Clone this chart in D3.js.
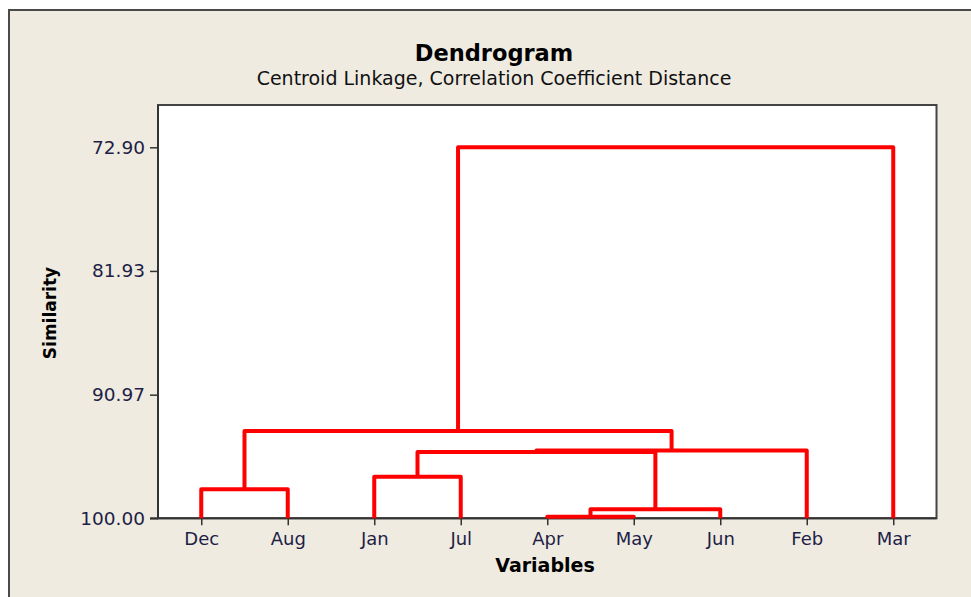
<!DOCTYPE html>
<html>
<head>
<meta charset="utf-8">
<script src="https://cdn.jsdelivr.net/npm/d3@7"></script>
<style>
  html, body { margin: 0; padding: 0; background: #ffffff; }
  svg { display: block; }
</style>
</head>
<body>
<svg id="chart" width="971" height="597"></svg>
<script>
// ---- data ----
const leaves = ["Dec", "Aug", "Jan", "Jul", "Apr", "May", "Jun", "Feb", "Mar"];
const yTicks = [72.90, 81.93, 90.97, 100.00];
// merges: [cluster id, left child, right child, similarity]
const mergeIds   = ["AM", "AMJ", "DA", "JJ", "JJAMJ", "C", "D", "ALL"];
const mergeLeft  = ["Apr", "AM", "Dec", "Jan", "JJ", "JJAMJ", "DA", "D"];
const mergeRight = ["May", "Jun", "Aug", "Jul", "AMJ", "Feb", "C", "Mar"];
const mergeSim   = [99.88, 99.34, 97.88, 96.96, 95.16, 95.05, 93.62, 72.90];

const title = "Dendrogram";
const subtitle = "Centroid Linkage, Correlation Coefficient Distance";
const xTitle = "Variables";
const yTitle = "Similarity";

// ---- layout ----
const svg = d3.select("#chart");
const W = 971, H = 597;
const plot = { left: 158, right: 936.5, top: 105, bottom: 518.3 };

// outer background & border
svg.append("rect").attr("x", 0).attr("y", 0).attr("width", W).attr("height", H).attr("fill", "#ffffff");
svg.append("rect").attr("x", 9).attr("y", 10).attr("width", W + 20).attr("height", H + 20)
  .attr("fill", "#efebe1").attr("stroke", "#4a4a4a").attr("stroke-width", 2);

// plot area
svg.append("rect")
  .attr("x", plot.left).attr("y", plot.top)
  .attr("width", plot.right - plot.left).attr("height", plot.bottom - plot.top)
  .attr("fill", "#ffffff").attr("stroke", "#444444").attr("stroke-width", 2);

const x = d3.scalePoint().domain(leaves).range([plot.left, plot.right]).padding(0.5);
const y = d3.scaleLinear().domain([100, 69.81]).range([plot.bottom, plot.top]);

// axes
const yAxis = d3.axisLeft(y).tickValues(yTicks).tickFormat(d => d.toFixed(2)).tickSize(8).tickSizeOuter(0).tickPadding(5);
const gy = svg.append("g").attr("transform", `translate(${plot.left},0)`).call(yAxis);
gy.select(".domain").remove();
gy.selectAll(".tick line").attr("stroke", "#333").attr("stroke-width", 1.5);
gy.selectAll(".tick text").attr("fill", "#1e1e46").attr("font-family", "DejaVu Sans, Verdana, sans-serif").attr("font-size", 18.5);

const xAxis = d3.axisBottom(x).tickSize(7).tickSizeOuter(0).tickPadding(7);
const gx = svg.append("g").attr("transform", `translate(0,${plot.bottom})`).call(xAxis);
gx.select(".domain").remove();
gx.selectAll(".tick line").attr("stroke", "#333").attr("stroke-width", 1.5);
gx.selectAll(".tick text").attr("fill", "#1e1e46").attr("font-family", "DejaVu Sans, Verdana, sans-serif").attr("font-size", 18);

svg.append("line").attr("x1", plot.left - 8).attr("x2", plot.right).attr("y1", plot.bottom).attr("y2", plot.bottom)
  .attr("stroke", "#333").attr("stroke-width", 2);
svg.append("line").attr("x1", plot.left).attr("x2", plot.left).attr("y1", plot.top).attr("y2", plot.bottom)
  .attr("stroke", "#333").attr("stroke-width", 2);

// dendrogram links
const pos = {};
leaves.forEach(l => { pos[l] = { x: x(l), s: 100 }; });
const links = [];
mergeIds.forEach((id, i) => {
  const a = pos[mergeLeft[i]], b = pos[mergeRight[i]], s = mergeSim[i];
  links.push({ a, b, s });
  pos[id] = { x: (a.x + b.x) / 2, s };
});
svg.append("g").selectAll("path").data(links).join("path")
  .attr("d", d => `M${d.a.x},${y(d.a.s)}V${y(d.s)}H${d.b.x}V${y(d.b.s)}`)
  .attr("fill", "none").attr("stroke", "#ff0000").attr("stroke-width", 4)
  .attr("stroke-linejoin", "round");

// titles
svg.append("text").attr("x", 494).attr("y", 61).attr("text-anchor", "middle")
  .attr("font-family", "DejaVu Sans, Verdana, sans-serif").attr("font-weight", "bold").attr("font-size", 22.5)
  .attr("fill", "#000").text(title);
svg.append("text").attr("x", 494).attr("y", 85).attr("text-anchor", "middle")
  .attr("font-family", "DejaVu Sans, Verdana, sans-serif").attr("font-size", 19)
  .attr("fill", "#111").text(subtitle);
svg.append("text").attr("x", 545).attr("y", 572).attr("text-anchor", "middle")
  .attr("font-family", "DejaVu Sans, Verdana, sans-serif").attr("font-weight", "bold").attr("font-size", 19)
  .attr("fill", "#000").text(xTitle);
svg.append("text").attr("transform", "translate(56,313) rotate(-90)").attr("text-anchor", "middle")
  .attr("font-family", "DejaVu Sans, Verdana, sans-serif").attr("font-weight", "bold").attr("font-size", 17)
  .attr("fill", "#000").text(yTitle);
</script>
</body>
</html>
